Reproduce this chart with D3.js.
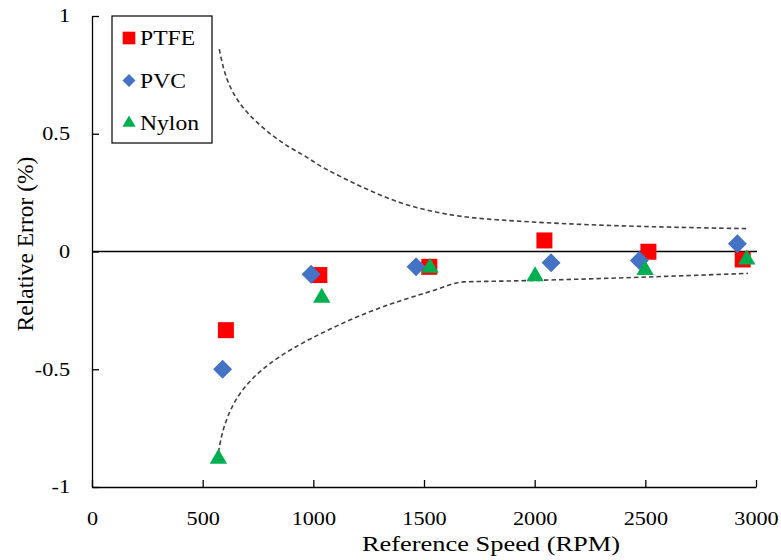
<!DOCTYPE html>
<html><head><meta charset="utf-8">
<script src="https://cdn.jsdelivr.net/npm/d3@7"></script>
<style>body{margin:0;background:#fff}svg{display:block}</style>
</head><body><svg id="c" width="781" height="560"></svg>
<script>
const speedPTFE = [605, 1027, 1524, 2044, 2514, 2940];
const errPTFE   = [-0.334, -0.100, -0.065, 0.047, -0.001, -0.034];
const speedPVC  = [590, 990, 1464, 2074, 2473, 2916];
const errPVC    = [-0.500, -0.097, -0.065, -0.048, -0.038, 0.033];
const speedNylon= [571, 1038, 1527, 2002, 2499, 2958];
const errNylon  = [-0.880, -0.196, -0.069, -0.105, -0.079, -0.034];
const upperX = [575, 593, 609, 631, 661, 699, 751, 812, 887, 962, 1038, 1090, 1241, 1391, 1542, 1723, 1828, 2964];
const upperY = [0.859, 0.783, 0.735, 0.687, 0.639, 0.593, 0.544, 0.495, 0.446, 0.405, 0.360, 0.334, 0.265, 0.208, 0.170, 0.143, 0.135, 0.097];
const lowerX = [571, 586, 609, 638, 676, 722, 782, 857, 947, 1053, 1241, 1391, 1542, 1678, 1843, 2964];
const lowerY = [-0.853, -0.783, -0.712, -0.651, -0.594, -0.543, -0.492, -0.441, -0.391, -0.340, -0.261, -0.210, -0.166, -0.129, -0.126, -0.093];
const xTicks = [0, 500, 1000, 1500, 2000, 2500, 3000];
const yTicks = [-1, -0.5, 0, 0.5, 1];
const seriesNames = ["PTFE", "PVC", "Nylon"];
const colors = ["#FF0000", "#4472C4", "#00B050"];

const FONT = '"Liberation Serif", "Times New Roman", Tinos, serif';
const STRETCH = 1.2;
function styleText(sel, size) {
  sel.style("font-family", FONT).attr("font-family", null).attr("font-size", size).style("font-size", size + "px").attr("fill", "#000");
}
function stretch(sel, f) {
  sel.each(function () {
    const L = this.getComputedTextLength();
    d3.select(this).attr("textLength", L * f).attr("lengthAdjust", "spacingAndGlyphs");
  });
}

const svg = d3.select("#c");
const x = d3.scaleLinear().domain([0, 3000]).range([92, 756]);
const y = d3.scaleLinear().domain([-1, 1]).range([487, 16]);

// axes
const xAxis = d3.axisBottom(x).tickValues(xTicks).tickSizeInner(-7).tickSizeOuter(0).tickPadding(18).tickFormat(d3.format("d"));
const gx = svg.append("g").attr("transform", `translate(0,${y(-1)})`).call(xAxis);
gx.attr("font-family", null);
styleText(gx.selectAll("text"), 18.5);
gx.selectAll("text").attr("dy", "0.33em").attr("y", 32);
stretch(gx.selectAll("text"), STRETCH);
gx.selectAll("line,path").attr("stroke", "#000").attr("stroke-width", 1.3);

const fmtY = d => String(d).replace("\u2212", "-");
const yAxis = d3.axisLeft(y).tickValues(yTicks).tickSizeInner(-7).tickSizeOuter(0).tickPadding(22).tickFormat(fmtY);
const gy = svg.append("g").attr("transform", `translate(${x(0)},0)`).call(yAxis);
gy.attr("font-family", null);
styleText(gy.selectAll("text"), 18.5);
stretch(gy.selectAll("text"), STRETCH);
gy.selectAll("line,path").attr("stroke", "#000").attr("stroke-width", 1.3);

// zero line
svg.append("line").attr("x1", x(0)).attr("x2", x(3000) + 1).attr("y1", y(0)).attr("y2", y(0))
  .attr("stroke", "#000").attr("stroke-width", 1.5);

// dashed bounds
const line = d3.line().x(d => x(d[0])).y(d => y(d[1])).curve(d3.curveMonotoneX);
[[upperX, upperY], [lowerX, lowerY]].forEach(([xs, ys]) => {
  svg.append("path").attr("d", line(xs.map((v, i) => [v, ys[i]])))
    .attr("fill", "none").attr("stroke", "#404040").attr("stroke-width", 1.6)
    .attr("stroke-dasharray", "4.5,3");
});

// markers
const sq = d3.symbol().type(d3.symbolSquare).size(256);
const dm = d3.symbol().type(d3.symbolSquare).size(180);
const tr = d3.symbol().type(d3.symbolTriangle).size(130);
const syms = [sq, dm, tr];
const rot = [0, 45, 0];
const data = [[speedPTFE, errPTFE], [speedPVC, errPVC], [speedNylon, errNylon]];
data.forEach(([xs, ys], s) => {
  svg.append("g").selectAll("path").data(xs.map((v, i) => [v, ys[i]])).join("path")
    .attr("d", syms[s]())
    .attr("transform", d => `translate(${x(d[0])},${y(d[1])}) rotate(${rot[s]})`)
    .attr("fill", colors[s]);
});

// legend
const lg = svg.append("g");
lg.append("rect").attr("x", 112).attr("y", 16).attr("width", 100).attr("height", 127)
  .attr("fill", "#fff").attr("stroke", "#000").attr("stroke-width", 1.2);
const lsyms = [d3.symbol().type(d3.symbolSquare).size(160), d3.symbol().type(d3.symbolSquare).size(85), d3.symbol().type(d3.symbolTriangle).size(75)];
seriesNames.forEach((n, i) => {
  const cy = 38 + i * 42.5;
  lg.append("path").attr("d", lsyms[i]()).attr("transform", `translate(129,${cy}) rotate(${rot[i]})`).attr("fill", colors[i]);
  const t = lg.append("text").attr("x", 140).attr("y", cy).attr("dy", "0.35em").text(n);
  styleText(t, 20);
  stretch(t, 1.18);
});

// titles
const xt = svg.append("text").attr("x", 491).attr("y", 543).attr("dy", "0.35em").attr("text-anchor", "middle")
  .text("Reference Speed (RPM)");
styleText(xt, 22);
stretch(xt, STRETCH);
const yt = svg.append("text").attr("transform", "translate(25,244) rotate(-90)").attr("dy", "0.35em").attr("text-anchor", "middle")
  .text("Relative Error (%)");
styleText(yt, 23.5);
</script></body></html>
